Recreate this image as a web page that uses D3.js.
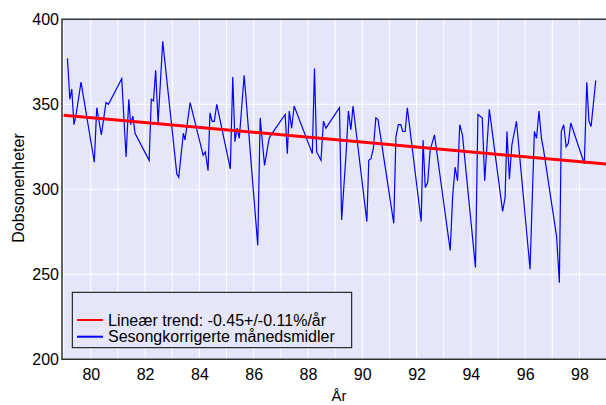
<!DOCTYPE html>
<html>
<head>
<meta charset="utf-8">
<script src="https://cdn.jsdelivr.net/npm/d3@7"></script>
<style>
  body { margin: 0; background: #fff; }
  svg text { font-family: "Liberation Sans", Arial, sans-serif; fill: #000; }
</style>
</head>
<body>
<div id="chart"></div>
<script>
// monthly means (seasonally corrected), decimal year (19xx) and Dobson units
const years = [
  79.14, 79.23, 79.30, 79.38, 79.46, 79.64,
  80.13, 80.22, 80.39, 80.56, 80.65,
  81.14, 81.30, 81.40, 81.47, 81.55, 81.63,
  82.15, 82.23, 82.31, 82.39, 82.48, 82.65,
  83.17, 83.24, 83.41, 83.47, 83.66,
  84.14, 84.22, 84.32, 84.39, 84.47, 84.55, 84.64,
  85.14, 85.23, 85.31, 85.39, 85.47, 85.65,
  86.15, 86.24, 86.40, 86.57, 86.64,
  87.16, 87.24, 87.31, 87.40, 87.49,
  88.16, 88.24, 88.32, 88.48, 88.57, 88.66,
  89.16, 89.24, 89.40, 89.49, 89.58, 89.66,
  90.17, 90.24, 90.32, 90.41, 90.50, 90.58,
  91.16, 91.24, 91.33, 91.42, 91.49, 91.58, 91.66,
  92.17, 92.24, 92.32, 92.41, 92.50, 92.66,
  93.24, 93.33, 93.42, 93.51, 93.59, 93.69,
  94.17, 94.26, 94.34, 94.42, 94.51, 94.68,
  95.17, 95.26, 95.33, 95.42, 95.51, 95.68,
  96.18, 96.34, 96.42, 96.51, 96.60, 96.68,
  97.16, 97.26, 97.33, 97.42, 97.51, 97.59, 97.68,
  98.18, 98.27, 98.35, 98.43, 98.60
];
const ozone = [
  377, 353, 359, 338, 344, 363,
  316, 348, 332, 351, 350,
  365, 319, 353, 338, 343, 333,
  317, 353, 352, 370, 339, 387,
  309, 307, 333, 329, 351,
  320, 322, 311, 345, 340, 340, 350,
  312, 366, 328, 336, 330, 367,
  267, 342, 314, 330, 332,
  344, 321, 346, 336, 349,
  321, 371, 322, 317, 340, 336,
  348, 282, 320, 346, 335, 349,
  281, 317, 318, 324, 342, 341,
  280, 331, 338, 338, 334, 334, 348,
  281, 329, 301, 304, 323, 332,
  264, 296, 313, 305, 338, 332,
  254, 344, 343, 342, 305, 347,
  287, 295, 334, 306, 326, 340,
  253, 334, 330, 346, 330, 323,
  272, 245, 334, 338, 325, 327, 339,
  315, 363, 340, 337, 364
];
const trendYears = [79, 99];
const trendValues = [343.6, 314.8];
const yTicks = [200, 250, 300, 350, 400];
const xTicks = [80, 82, 84, 86, 88, 90, 92, 94, 96, 98];
const xGrid = d3.range(79, 100);
const legendLabels = ["Lineær trend: -0.45+/-0.11%/år", "Sesongkorrigerte månedsmidler"];
const legendColors = ["#ff0000", "#0000ff"];

const W = 606, H = 405;
const pLeft = 62, pTop = 19.3, pBottom = 359.3, pRight = 606;

const svg = d3.select("#chart").append("svg")
  .attr("width", W).attr("height", H);

const x = d3.scaleLinear().domain([78.94, 99]).range([pLeft, 606.6]);
const y = d3.scaleLinear().domain([200, 400]).range([pBottom, pTop]);

svg.append("defs").append("clipPath").attr("id", "clip")
  .append("rect").attr("x", pLeft).attr("y", pTop)
  .attr("width", pRight - pLeft).attr("height", pBottom - pTop);

// plot background
svg.append("rect")
  .attr("x", pLeft).attr("y", pTop)
  .attr("width", pRight - pLeft).attr("height", pBottom - pTop)
  .attr("fill", "#e6e6fa");

// grid
svg.append("g").selectAll("line").data(xGrid).join("line")
  .attr("x1", d => x(d)).attr("x2", d => x(d))
  .attr("y1", pTop).attr("y2", pBottom)
  .attr("stroke", "#fff").attr("stroke-width", 1);
svg.append("g").selectAll("line").data(yTicks.slice(1, -1)).join("line")
  .attr("x1", pLeft).attr("x2", pRight)
  .attr("y1", d => y(d)).attr("y2", d => y(d))
  .attr("stroke", "#fff").attr("stroke-width", 1);

const plot = svg.append("g").attr("clip-path", "url(#clip)");

// data line
const series = years.map((yr, i) => ({ yr, v: ozone[i] }));
plot.append("path")
  .datum(series)
  .attr("d", d3.line().x(d => x(d.yr)).y(d => y(d.v)))
  .attr("fill", "none")
  .attr("stroke", "#0000ff")
  .attr("stroke-width", 1.2);

// trend
const trend = trendYears.map((yr, i) => ({ yr, v: trendValues[i] }));
plot.append("path")
  .datum(trend)
  .attr("d", d3.line().x(d => x(d.yr)).y(d => y(d.v)))
  .attr("fill", "none")
  .attr("stroke", "#ff0000")
  .attr("stroke-width", 3);

// frame
svg.append("path")
  .attr("d", `M${pRight},${pTop}H${pLeft}V${pBottom}H${pRight}`)
  .attr("fill", "none")
  .attr("stroke", "#333")
  .attr("stroke-width", 1.5);

// axes
const xAxis = svg.append("g")
  .attr("transform", `translate(0,${pBottom})`)
  .call(d3.axisBottom(x).tickValues(xTicks).tickSize(0).tickPadding(9));
xAxis.select(".domain").remove();
xAxis.selectAll("text").style("font-size", "16px");

const yAxis = svg.append("g")
  .attr("transform", `translate(${pLeft},0)`)
  .call(d3.axisLeft(y).tickValues(yTicks).tickSize(0).tickPadding(3));
yAxis.select(".domain").remove();
yAxis.selectAll("text").style("font-size", "16px");

svg.append("text")
  .attr("x", 339).attr("y", 401)
  .attr("text-anchor", "middle")
  .style("font-size", "15px")
  .text("År");

svg.append("text")
  .attr("transform", "rotate(-90)")
  .attr("x", -188).attr("y", 24)
  .attr("text-anchor", "middle")
  .style("font-size", "16px")
  .text("Dobsonenheter");

// legend
const legend = svg.append("g");
legend.append("rect")
  .attr("x", 72.3).attr("y", 292.3)
  .attr("width", 279.4).attr("height", 55.4)
  .attr("fill", "#e6e6fa")
  .attr("stroke", "#000")
  .attr("stroke-width", 1);
legendLabels.forEach((label, i) => {
  const ly = 320 + i * 16.7;
  legend.append("line")
    .attr("x1", 77).attr("x2", 103)
    .attr("y1", ly).attr("y2", ly)
    .attr("stroke", legendColors[i])
    .attr("stroke-width", 2);
  legend.append("text")
    .attr("x", 108).attr("y", ly + 5.5)
    .style("font-size", "16px")
    .text(label);
});
</script>
</body>
</html>
